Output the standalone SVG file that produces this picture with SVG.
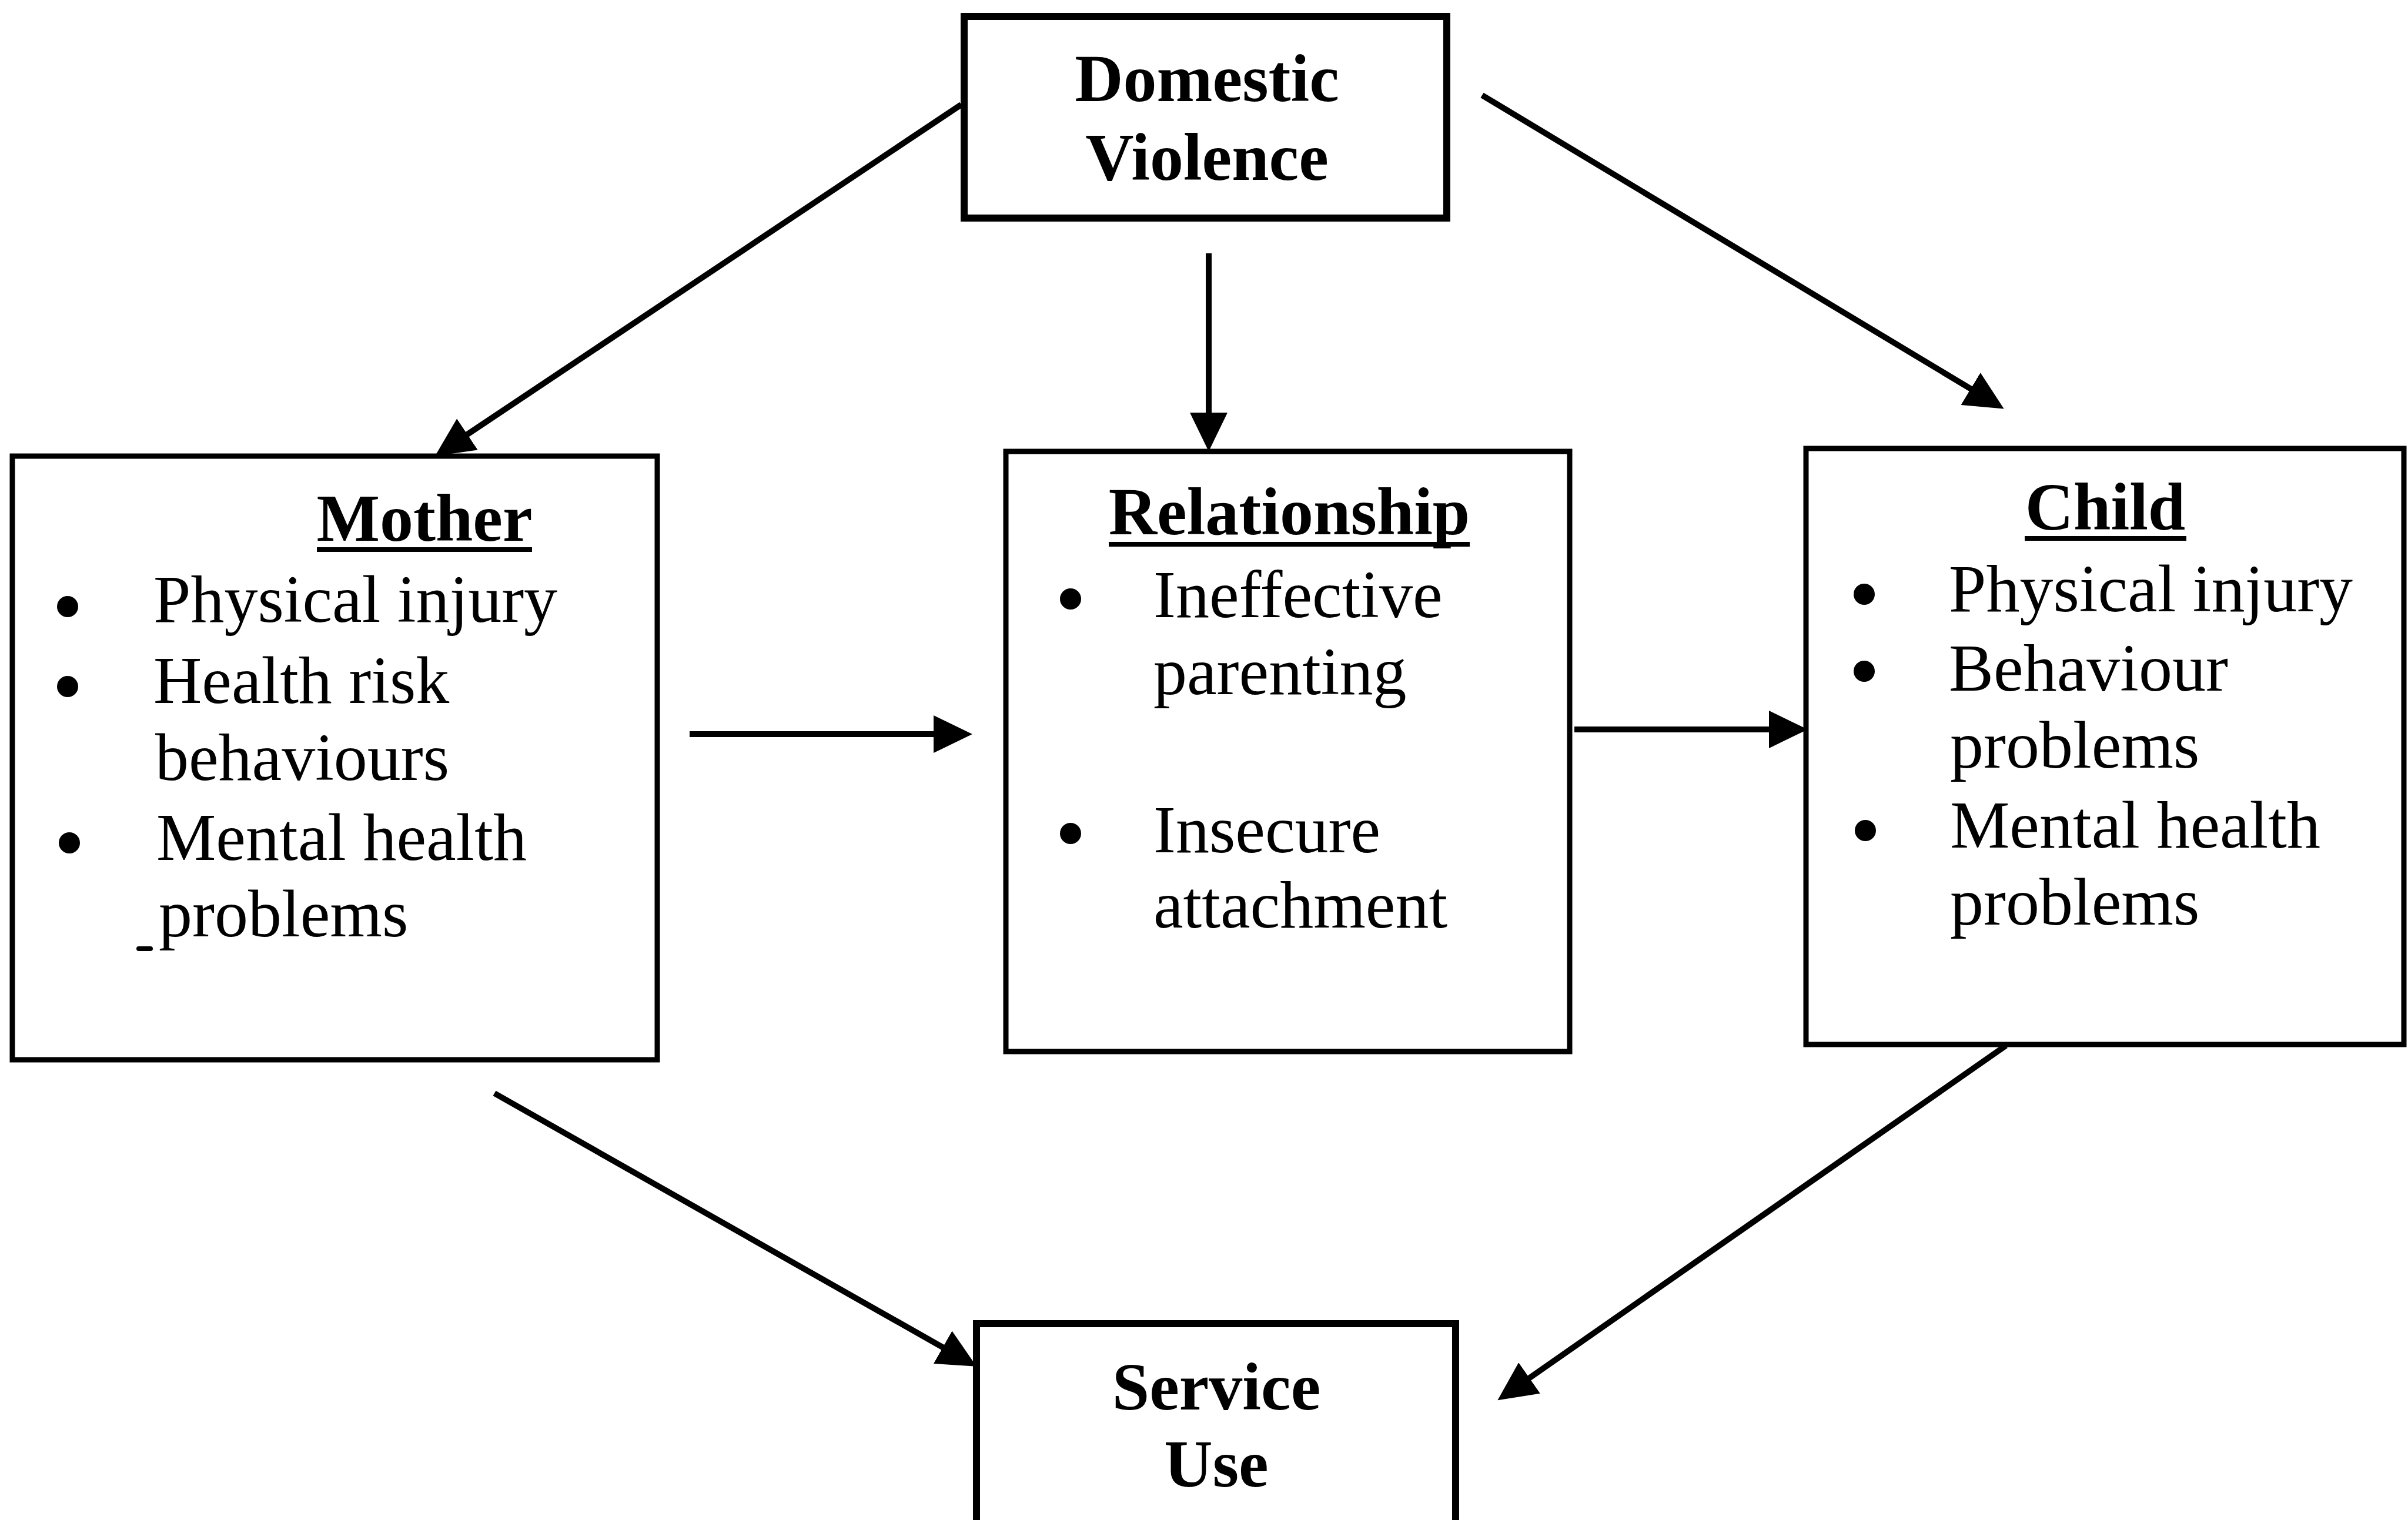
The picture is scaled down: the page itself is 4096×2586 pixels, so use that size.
<svg xmlns="http://www.w3.org/2000/svg" width="4096" height="2586" viewBox="0 0 4096 2586">
<style>
.box{fill:#fff;stroke:#000;stroke-width:9}
.t{font-family:"Liberation Serif","Times New Roman",serif;font-size:114px;fill:#000}
.b{font-weight:bold}
.c{text-anchor:middle}
.ul{stroke:#000;stroke-width:8}
.bul{fill:#000}
.con{stroke:#000;stroke-width:10;fill:none}
</style>
<defs>
<marker id="ah" markerUnits="userSpaceOnUse" markerWidth="70" markerHeight="64" refX="36" refY="32" orient="auto">
<path d="M0,0 L66,32 L0,64 z" fill="#000"/>
</marker>
</defs>
<rect width="4096" height="2586" fill="#fff"/>
<g id="connectors">
<line class="con" x1="1635" y1="178" x2="765" y2="759" marker-end="url(#ah)"/>
<line class="con" x1="2056" y1="431" x2="2056" y2="738" marker-end="url(#ah)"/>
<line class="con" x1="2521" y1="162" x2="3383" y2="680" marker-end="url(#ah)"/>
<line class="con" x1="1173" y1="1249" x2="1624" y2="1249" marker-end="url(#ah)"/>
<line class="con" x1="2678" y1="1241" x2="3045" y2="1241" marker-end="url(#ah)"/>
<line class="con" x1="841" y1="1860" x2="1635" y2="2310" marker-end="url(#ah)"/>
<line class="con" x1="3412" y1="1779" x2="2572" y2="2365" marker-end="url(#ah)"/>
</g>
<g id="domestic-violence">
<rect class="box" x="1640" y="28" width="821" height="343" style="stroke-width:12"/>
<text class="t b c" x="2053" y="172">Domestic</text>
<text class="t b c" x="2053" y="306">Violence</text>
</g>
<g id="mother">
<rect class="box" x="21" y="776" width="1097" height="1027"/>
<text class="t b c" x="722" y="920">Mother</text>
<line class="ul" x1="539" y1="935" x2="905" y2="935"/>
<circle class="bul" cx="115" cy="1032" r="18"/>
<circle class="bul" cx="115" cy="1168" r="18"/>
<circle class="bul" cx="118" cy="1434" r="18"/>
<text class="t" x="261" y="1058">Physical injury</text>
<text class="t" x="261" y="1196">Health risk</text>
<text class="t" x="264" y="1327">behaviours</text>
<text class="t" x="266" y="1463">Mental health</text>
<text class="t" x="270" y="1593">problems</text>
<line class="ul" x1="236" y1="1614" x2="256" y2="1614" style="stroke-width:8;stroke-linecap:round"/>
</g>
<g id="relationship">
<rect class="box" x="1711" y="768" width="959" height="1021"/>
<text class="t b c" x="2193" y="909">Relationship</text>
<line class="ul" x1="1886" y1="926" x2="2500" y2="926"/>
<circle class="bul" cx="1821" cy="1019" r="18"/>
<circle class="bul" cx="1821" cy="1418" r="18"/>
<text class="t" x="1962" y="1050">Ineffective</text>
<text class="t" x="1962" y="1181">parenting</text>
<text class="t" x="1962" y="1450">Insecure</text>
<text class="t" x="1962" y="1578">attachment</text>
</g>
<g id="child">
<rect class="box" x="3072" y="763" width="1017" height="1014"/>
<text class="t b c" x="3581" y="901">Child</text>
<line class="ul" x1="3444" y1="916" x2="3719" y2="916"/>
<circle class="bul" cx="3171" cy="1011" r="18"/>
<circle class="bul" cx="3171" cy="1142" r="18"/>
<circle class="bul" cx="3173" cy="1413" r="18"/>
<text class="t" x="3315" y="1040">Physical injury</text>
<text class="t" x="3315" y="1175">Behaviour</text>
<text class="t" x="3317" y="1306">problems</text>
<text class="t" x="3317" y="1442">Mental health</text>
<text class="t" x="3317" y="1573">problems</text>
</g>
<g id="service-use">
<rect class="box" x="1661" y="2252" width="815" height="360" style="stroke-width:12"/>
<text class="t b c" x="2069" y="2398">Service</text>
<text class="t b c" x="2069" y="2529">Use</text>
</g>
</svg>
